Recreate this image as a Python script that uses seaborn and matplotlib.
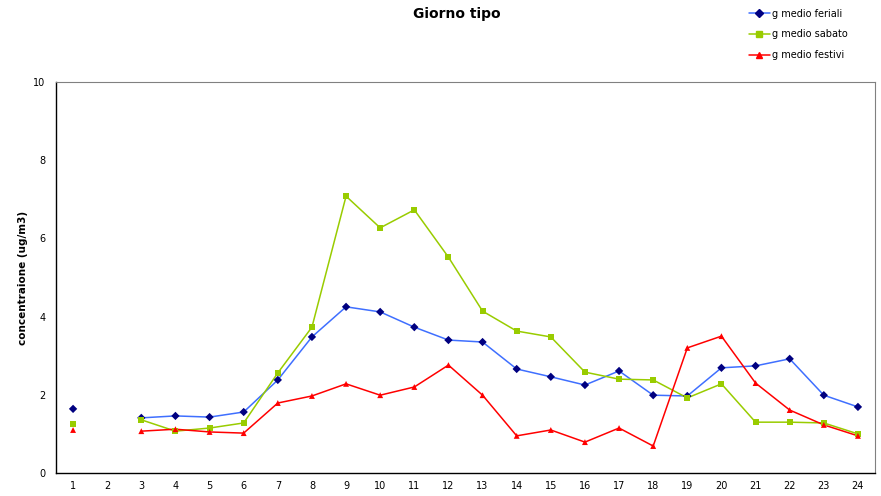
import numpy as np
import pandas as pd
import matplotlib.pyplot as plt
import seaborn as sns
from matplotlib.lines import Line2D

# ore del giorno (ora 2 senza dati)
ore = list(range(1, 25))
serie = ["g medio feriali", "g medio sabato", "g medio festivi"]

feriali = [1.64, np.nan, 1.41, 1.46, 1.43, 1.56, 2.38, 3.48, 4.25, 4.12, 3.73, 3.40,
           3.35, 2.66, 2.46, 2.25, 2.61, 1.99, 1.97, 2.69, 2.74, 2.92, 1.99, 1.69]
sabato = [1.25, np.nan, 1.36, 1.07, 1.15, 1.28, 2.56, 3.73, 7.08, 6.27, 6.73, 5.52,
          4.14, 3.63, 3.48, 2.58, 2.40, 2.38, 1.92, 2.28, 1.30, 1.30, 1.28, 1.00]
festivi = [1.10, np.nan, 1.07, 1.12, 1.05, 1.02, 1.79, 1.97, 2.28, 1.99, 2.20, 2.76,
           1.99, 0.95, 1.10, 0.79, 1.15, 0.69, 3.20, 3.50, 2.30, 1.61, 1.23, 0.95]

line_colors = {"g medio feriali": "#3F6FFF", "g medio sabato": "#99CC00", "g medio festivi": "#FF0000"}
marker_colors = {"g medio feriali": "#000080", "g medio sabato": "#99CC00", "g medio festivi": "#FF0000"}
markers = {"g medio feriali": "D", "g medio sabato": "s", "g medio festivi": "^"}

rows = []
for nome, vals in zip(serie, [feriali, sabato, festivi]):
    seg = 0
    for o, v in zip(ore, vals):
        if np.isnan(v):
            seg += 1
            continue
        rows.append({"ora": o, "valore": v, "serie": nome, "seg": seg})
df = pd.DataFrame(rows)

sns.set_style("white")
plt.rcParams["font.family"] = ["DejaVu Sans"]
plt.rcParams["text.color"] = "black"
plt.rcParams["axes.labelcolor"] = "black"
plt.rcParams["xtick.color"] = "black"
plt.rcParams["ytick.color"] = "black"

fig = plt.figure(figsize=(8.81, 4.96), dpi=100)
ax = fig.add_axes([56 / 881, 23 / 496, 819 / 881, 391 / 496])

sns.lineplot(data=df, x="ora", y="valore", hue="serie", units="seg", estimator=None,
             palette=line_colors, linewidth=1.1, legend=False, ax=ax)
sns.scatterplot(data=df, x="ora", y="valore", hue="serie", style="serie",
                palette=marker_colors, markers=markers, s=18, linewidth=0,
                legend=False, ax=ax, zorder=3)

ax.set_xlim(0.5, 24.5)
ax.set_ylim(0, 10)
ax.set_yticks([0, 2, 4, 6, 8, 10])
ax.set_xticks(ore)
ax.set_xticks(np.arange(0.5, 25, 1), minor=True)
ax.tick_params(axis="x", which="major", length=0, labelsize=7, pad=6)
ax.tick_params(axis="x", which="minor", length=4, width=0.8, color="black", direction="out")
ax.tick_params(axis="y", length=4, width=0.8, labelsize=7, direction="out", color="black")
ax.set_xlabel("")
ax.set_ylabel("concentraione (ug/m3)", fontsize=7.5, fontweight="bold")

for s in ["left", "bottom"]:
    ax.spines[s].set_color("black")
    ax.spines[s].set_linewidth(1)
for s in ["top", "right"]:
    ax.spines[s].set_color("#808080")
    ax.spines[s].set_linewidth(0.8)

fig.text(457 / 881, 1 - 14 / 496, "Giorno tipo", ha="center", va="center",
         fontsize=10, fontweight="bold")

handles = [Line2D([0], [0], color=line_colors[n], marker=markers[n],
                  markerfacecolor=marker_colors[n], markeredgecolor=marker_colors[n],
                  markersize=4, linewidth=1.1) for n in serie]
fig.legend(handles, serie, loc="upper left", bbox_to_anchor=(740 / 881, 1.0),
           frameon=False, fontsize=7, handlelength=2.2, handletextpad=0.2,
           labelspacing=1.1)

fig.savefig("out.png", dpi=100)
